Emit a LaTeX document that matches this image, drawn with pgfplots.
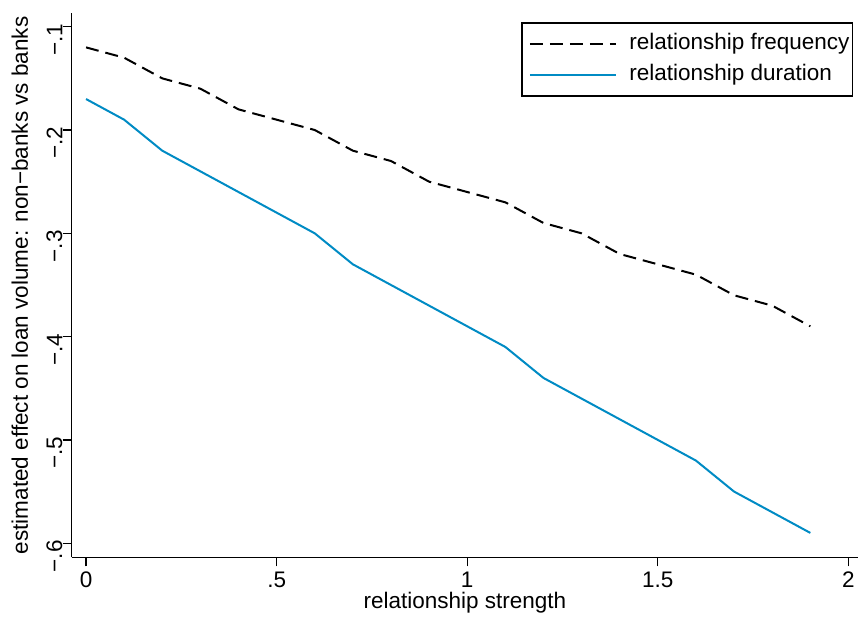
\documentclass[border=0pt]{standalone}
\usepackage{pgfplots}
\pgfplotsset{compat=1.18}
\usepackage{fontspec}
\setmainfont{Liberation Sans}
\definecolor{sblue}{RGB}{0,139,196}
\begin{document}
\fontsize{11.25}{13.5}\selectfont
\begin{tikzpicture}
\begin{axis}[
  scale only axis,
  width=393.15pt, height=272pt,
  xmin=-0.0376, xmax=2.025,
  ymin=-0.6136, ymax=-0.087,
  axis x line*=bottom, axis y line*=left,
  axis line style={line width=0.6pt},
  every tick/.style={black, line width=0.6pt},
  tick align=outside,
  major tick length=4.5pt,
  xtick={0,0.5,1,1.5,2},
  xticklabels={0,.5,1,1.5,2},
  ytick={-0.6,-0.5,-0.4,-0.3,-0.2,-0.1},
  yticklabels={−.6,−.5,−.4,−.3,−.2,−.1},
  /pgf/number format/assume math mode=true,
  tick label style={font=\fontsize{11.25}{13.5}\selectfont},
  xticklabel style={anchor=north, inner sep=0pt, yshift=-2.5pt},
  yticklabel style={rotate=90, anchor=south, inner sep=0pt, xshift=-6.5pt},
  xlabel={relationship strength},
  ylabel={estimated effect on loan volume: non−banks vs banks},
  label style={font=\fontsize{11.25}{13.5}\selectfont},
  every axis x label/.style={at={(axis description cs:0.5,0)}, anchor=base, yshift=-25.35pt},
  every axis y label/.style={at={(axis description cs:-0.0556,0.5)}, rotate=90, anchor=base},
  legend style={at={(1,1)}, anchor=north east, xshift=-2.5pt, yshift=-4.6pt,
    draw=black, line width=0.6pt, font=\fontsize{11.25}{13.5}\selectfont,
    inner xsep=1pt, inner ysep=3.5pt, row sep=1.5pt,
    nodes={inner xsep=0.5pt, inner ysep=1.5pt, text depth=0.25em},
    /tikz/every odd column/.append style={column sep=5.65pt}},
  legend cell align=left,
  legend image code/.code={\path (0.5pt,0pt); \draw[#1] (3pt,0pt) -- (46pt,0pt);},
]
\addplot[black, line width=1pt, dash pattern=on 6.5pt off 3.5pt] coordinates {
(0,-0.12) (0.1,-0.13) (0.2,-0.15) (0.3,-0.16) (0.4,-0.18) (0.5,-0.19)
(0.6,-0.20) (0.7,-0.22) (0.8,-0.23) (0.9,-0.25) (1.0,-0.26) (1.1,-0.27)
(1.2,-0.29) (1.3,-0.30) (1.4,-0.32) (1.5,-0.33) (1.6,-0.34) (1.7,-0.36)
(1.8,-0.37) (1.9,-0.39)};
\addlegendentry{relationship frequency}
\addplot[sblue, line width=1pt] coordinates {
(0,-0.17) (0.1,-0.19) (0.2,-0.22) (0.3,-0.24) (0.4,-0.26) (0.5,-0.28)
(0.6,-0.30) (0.7,-0.33) (0.8,-0.35) (0.9,-0.37) (1.0,-0.39) (1.1,-0.41)
(1.2,-0.44) (1.3,-0.46) (1.4,-0.48) (1.5,-0.50) (1.6,-0.52) (1.7,-0.55)
(1.8,-0.57) (1.9,-0.59)};
\addlegendentry{relationship duration}
\end{axis}
\pgfresetboundingbox
\useasboundingbox (-35.85pt,-29.85pt) rectangle (393.15pt,278.65pt);
\end{tikzpicture}
\end{document}
